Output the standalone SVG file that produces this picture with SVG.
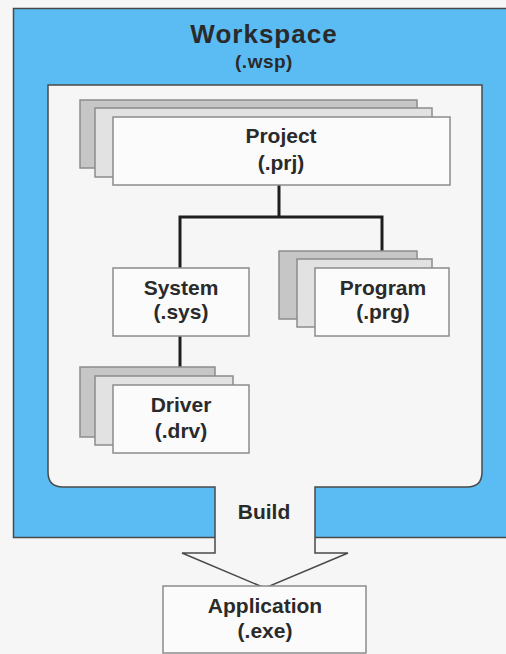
<svg xmlns="http://www.w3.org/2000/svg" width="506" height="654" viewBox="0 0 506 654">
<style>
text{font-family:"Liberation Sans",Arial,sans-serif;font-weight:bold;fill:#2a2a2a;text-anchor:middle}
.lbl{font-size:21px}
.b1{fill:#c6c6c6;stroke:#8c8c8c;stroke-width:1.5}
.b2{fill:#e2e2e2;stroke:#8c8c8c;stroke-width:1.5}
.b3{fill:#fbfbfb;stroke:#8c8c8c;stroke-width:1.5}
.con{fill:none;stroke:#1e1e1e;stroke-width:3}
</style>
<rect x="0" y="0" width="506" height="654" fill="#f6f6f6"/>
<g id="workspace">
<rect x="13.5" y="8.5" width="500" height="529" fill="#5bbcf4" stroke="#4a4a4a" stroke-width="1.5"/>
<path d="M48,85 H482 V472 Q482,487 467,487 H315 V553 H348 L265,588 L182,553 H215 V487 H63 Q48,487 48,472 Z" fill="#f6f6f6" stroke="#4a4a4a" stroke-width="1.5"/>
<text x="264" y="43" font-size="26" letter-spacing="1">Workspace</text>
<text x="264" y="68" font-size="19" font-weight="normal" letter-spacing="0.5">(.wsp)</text>
<text class="lbl" x="264" y="519">Build</text>
</g>
<g id="connectors">
<path class="con" d="M279,185 V217 M180,268 V217 H382 V268 M180,336 V385"/>
</g>
<g id="project">
<rect class="b1" x="80" y="100" width="337" height="68"/>
<rect class="b2" x="95" y="108" width="337" height="69"/>
<rect class="b3" x="113" y="117" width="337" height="68"/>
<text class="lbl" x="281" y="143">Project</text>
<text class="lbl" x="281" y="170">(.prj)</text>
</g>
<g id="system">
<rect class="b3" x="113" y="268" width="136" height="68"/>
<text class="lbl" x="181" y="295">System</text>
<text class="lbl" x="181" y="319">(.sys)</text>
</g>
<g id="program">
<rect class="b1" x="279" y="251" width="138" height="68"/>
<rect class="b2" x="297" y="259" width="135" height="68"/>
<rect class="b3" x="315" y="268" width="134" height="68"/>
<text class="lbl" x="383" y="295">Program</text>
<text class="lbl" x="383" y="319">(.prg)</text>
</g>
<g id="driver">
<rect class="b1" x="80" y="367" width="135" height="70"/>
<rect class="b2" x="95" y="376" width="138" height="69"/>
<rect class="b3" x="113" y="385" width="136" height="68"/>
<text class="lbl" x="181" y="412">Driver</text>
<text class="lbl" x="181" y="438">(.drv)</text>
</g>
<g id="application">
<rect class="b3" x="163" y="586" width="203" height="67"/>
<text class="lbl" x="265" y="613">Application</text>
<text class="lbl" x="265" y="638">(.exe)</text>
</g>
</svg>
